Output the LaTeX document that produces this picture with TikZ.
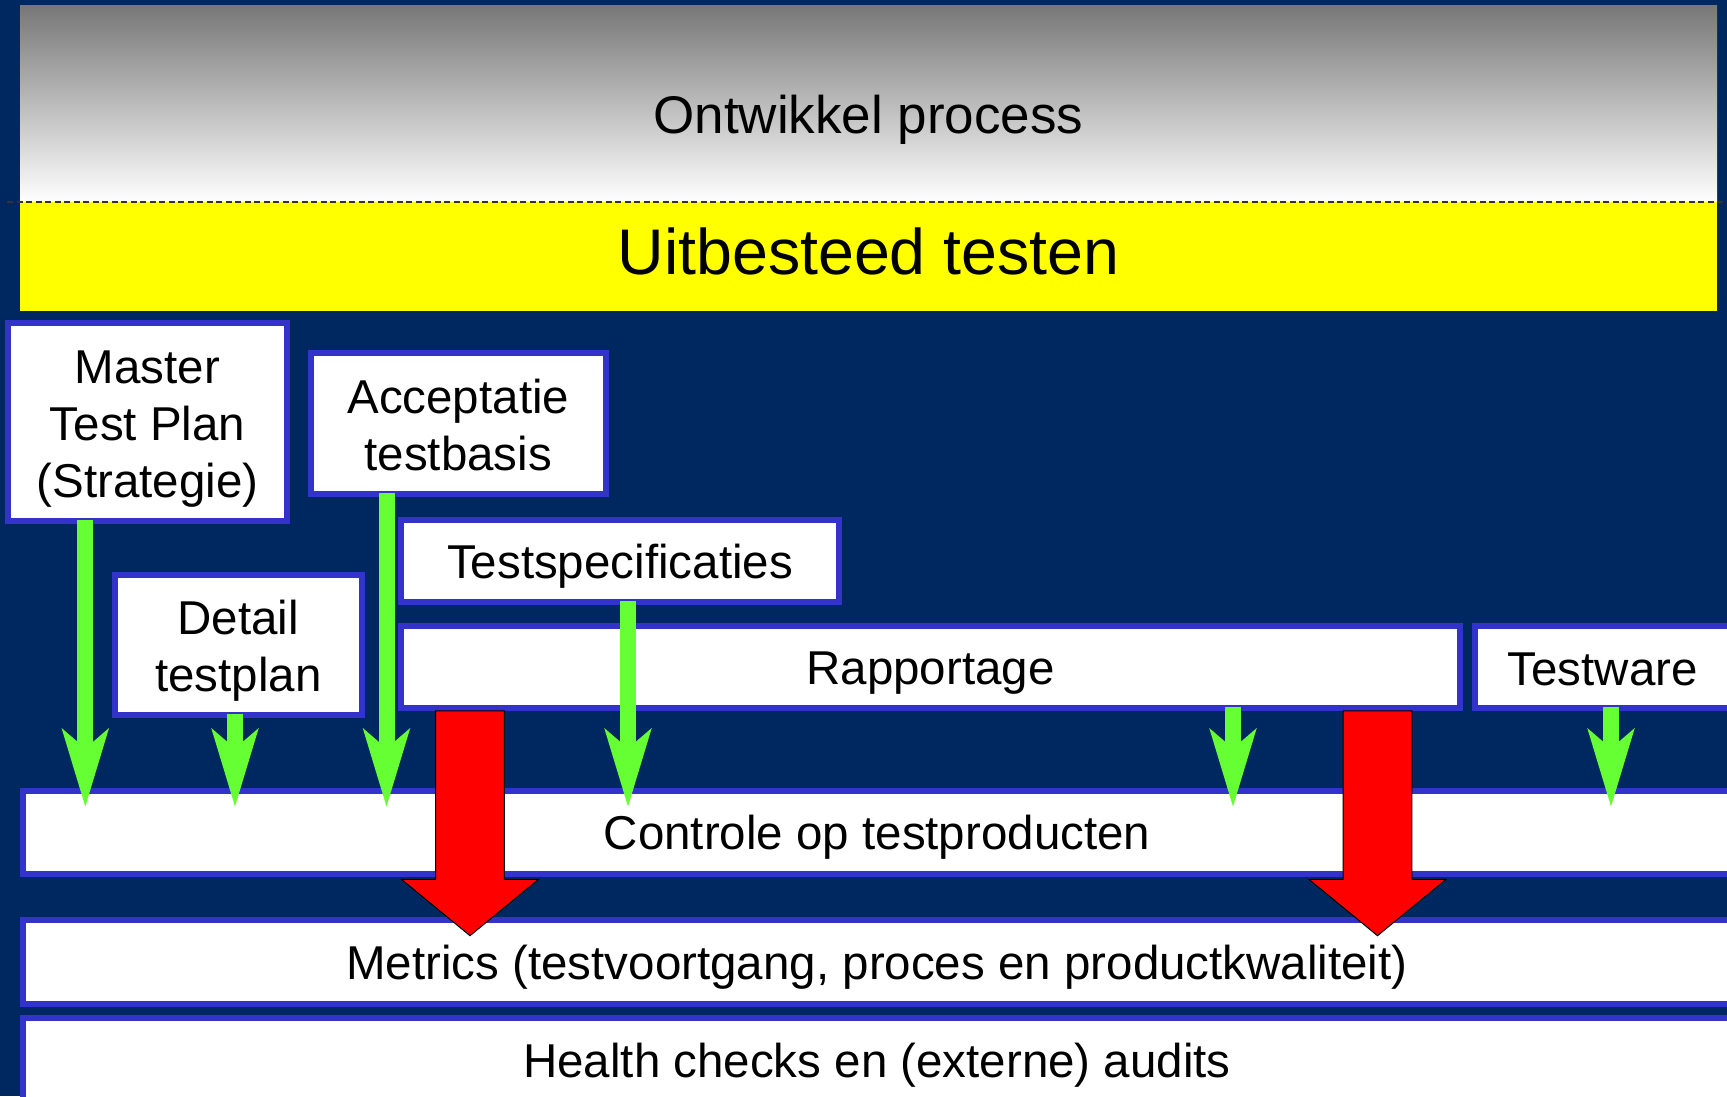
\documentclass[tikz,border=0pt]{standalone}
\usepackage{fontspec}
\setmainfont{Liberation Sans}
\usetikzlibrary{arrows.meta}

\definecolor{achtergrond}{RGB}{0,40,96}
\definecolor{kader}{RGB}{51,51,204}
\definecolor{groen}{RGB}{102,255,51}
\definecolor{grijs}{RGB}{119,119,119}
\definecolor{geel}{RGB}{255,255,0}
\definecolor{rood}{RGB}{255,0,0}

\newcommand{\hs}{\rule[-8pt]{0pt}{52.5pt}}

\tikzset{
  band/.style={inner sep=0pt, minimum width=1697pt},
  vak/.style={draw=kader, line width=6pt, fill=white, inner sep=0pt, align=center,
    font=\fontsize{47.5}{57}\selectfont, execute at begin node=\hs, execute at end node=\hs},
  twee/.style={text height=101.5pt, text depth=8pt},
  drie/.style={text height=158.5pt, text depth=8pt},
  groenpijl/.style={groen, line width=16pt, shorten <=-4pt,
    -{Stealth[length=78.5pt, width=47.5pt, inset=20.5pt, line width=0pt]}},
  blokpijl/.style={fill=rood, draw=black, line width=1pt, line join=miter}
}

\begin{document}
\begin{tikzpicture}[x=1pt, y=-1pt]
	\useasboundingbox (0,0) rectangle (1727,1096);
	\clip (0,0) rectangle (1727,1096);
	\fill[achtergrond] (0,0) rectangle (1727,1096);

	\node[band, top color=grijs, bottom color=white, minimum height=197pt,
	  font=\fontsize{53}{60}\selectfont, text height=64pt, text depth=5pt] (ontw) at (868.5,103.5) {Ontwikkel process};
	\node[band, fill=geel, minimum height=109pt,
	  font=\fontsize{64.5}{70}\selectfont, text height=48pt, text depth=13pt] (uitb) at (868.5,256.5) {Uitbesteed testen};
	\draw[black!80, line width=2pt, dash pattern=on 6pt off 3.5pt] (7,0 |- uitb.north) -- (1727,0 |- uitb.north);

	\node[vak, drie, minimum width=279pt, minimum height=198pt] (mtp) at (147.5,422) {Master\\Test Plan\\(Strategie)};
	\node[vak, twee, minimum width=295.3pt, minimum height=140.7pt] (atb) at (458.3,423.3) {Acceptatie\\testbasis};
	\node[vak, minimum width=437.2pt, minimum height=82.3pt] (tsp) at (620,560.8) {Testspecificaties};
	\node[vak, twee, minimum width=247.3pt, minimum height=140pt] (dtp) at (238.3,644.7) {Detail\\testplan};
	\node[vak, minimum width=1058.4pt, minimum height=82.3pt] (rap) at (930.5,666.8) {Rapportage};
	\node[vak, minimum width=254.6pt, minimum height=82.3pt] (tw) at (1602.6,666.8) {Testware};
	\node[vak, minimum width=1708pt, minimum height=83pt] (ctl) at (877,832.5) {Controle op testproducten};
	\node[vak, minimum width=1708pt, minimum height=83.7pt] (met) at (877,961.8) {Metrics (testvoortgang, proces en productkwaliteit)};
	\node[vak, minimum width=1708pt, minimum height=84pt] (hc) at (877,1060) {Health checks en (externe) audits};

	\foreach \x/\van in {85.3/mtp, 235/dtp, 386.5/atb, 628/tsp, 1233/rap, 1611/tw}
		\draw[groenpijl] (\x,0 |- \van.south) -- (\x,806.5);

	\foreach \x in {470,1377.5}
		\filldraw[blokpijl] (\x-34.3,0 |- rap.south) -- (\x+34.3,0 |- rap.south) -- (\x+34.3,879.3)
		  -- (\x+68.6,879.3) -- (\x,935.7) -- (\x-68.6,879.3) -- (\x-34.3,879.3) -- cycle;
\end{tikzpicture}
\end{document}
